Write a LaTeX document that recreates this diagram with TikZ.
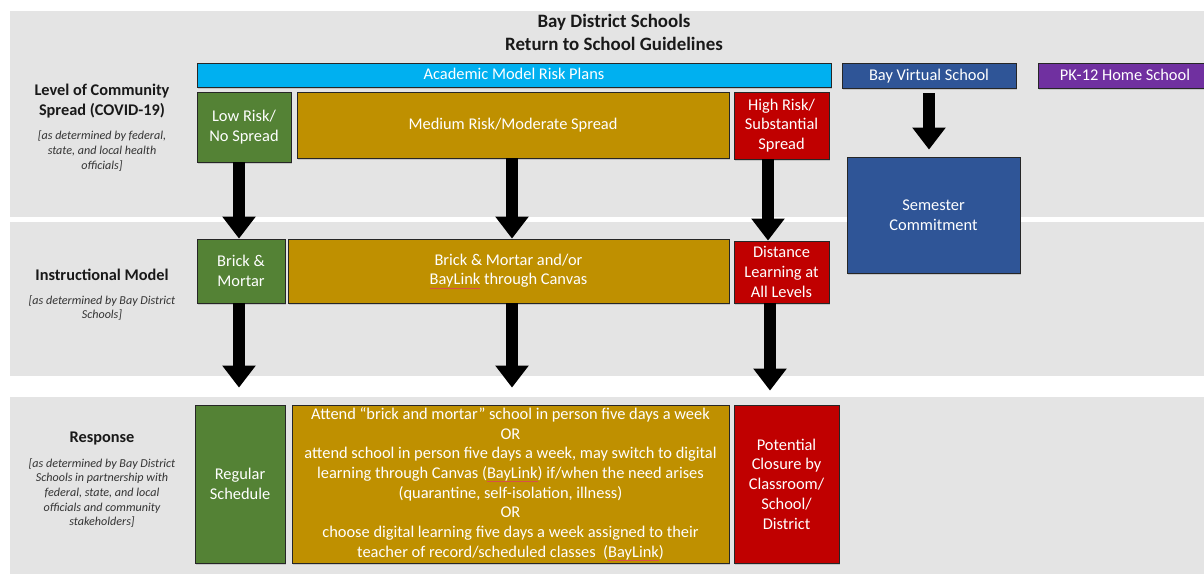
\documentclass[tikz,border=0pt]{standalone}
\usepackage{fontspec}
\setmainfont{Carlito}
\usetikzlibrary{arrows.meta,shadows}
\definecolor{bandgray}{HTML}{E4E4E4}
\definecolor{cgreen}{HTML}{548235}
\definecolor{cgold}{HTML}{BF9000}
\definecolor{cred}{HTML}{C00000}
\definecolor{ccyan}{HTML}{00B0F0}
\definecolor{cblue}{HTML}{2F5597}
\definecolor{cpurple}{HTML}{7030A0}
\definecolor{squiggle}{HTML}{D8504A}
\newcommand{\baylink}{\setbox0\hbox{BayLink}\rlap{\textcolor{squiggle}{\rule[-3.2pt]{\wd0}{0.35pt}}}BayLink}
\begin{document}
\begin{tikzpicture}[x=1pt,y=-1pt,
  box/.style={draw=black!85,line width=0.8pt,text=white,align=center,inner sep=0pt,
    font=\fontsize{16.4}{19.7}\selectfont,
    drop shadow={shadow xshift=1.2pt,shadow yshift=-1.8pt,opacity=0.3}},
  bigarrow/.style={line width=12pt,-{Triangle[length=22pt,width=32pt]},black},
  hdr/.style={font=\bfseries\fontsize{16.3}{20}\selectfont,align=center,text=black!90},
  note/.style={font=\itshape\fontsize{12.1}{14.7}\selectfont,align=center,text=black!80}]
\useasboundingbox (0,0) rectangle (1204,574);
\clip (0,0) rectangle (1204,574);
\fill[white] (0,0) rectangle (1204,574);
% bands
\fill[bandgray] (10,11) rectangle (1204,217);
\fill[bandgray] (10,222) rectangle (1204,376);
\fill[bandgray] (10,397) rectangle (1204,574);
% title
\node[hdr,font=\bfseries\fontsize{18.9}{23}\selectfont] (title) at (614,32.5) {Bay District Schools\\Return to School Guidelines};
% left labels
\node[hdr] (lvl) at (102,101) {Level of Community\\Spread (COVID-19)};
\node[note] (lvlnote) at (102,151) {[as determined by federal,\\state, and local health\\officials]};
\node[hdr] (ins) at (102,275) {Instructional Model};
\node[note] (insnote) at (102,308) {[as determined by Bay District\\Schools]};
\node[hdr] (rsp) at (102,438) {Response};
\node[note] (rspnote) at (102,493) {[as determined by Bay District\\Schools in partnership with\\federal, state, and local\\officials and community\\stakeholders]};
% top row
\node[box,fill=ccyan,minimum width=634pt,minimum height=24pt,text depth=1.5pt] (amrp) at (514,75) {Academic Model Risk Plans};
\node[box,fill=cblue,minimum width=174pt,minimum height=25pt,text depth=1.5pt] (bvs) at (929,75.5) {Bay Virtual School};
\node[box,fill=cpurple,minimum width=174pt,minimum height=25pt,text depth=1.5pt] (pk) at (1125,75.5) {PK-12 Home School};
% row 1
\node[box,fill=cgreen,minimum width=94pt,minimum height=70pt] (low) at (244,127) {Low Risk/\\No Spread};
\node[box,fill=cgold,minimum width=432pt,minimum height=66pt,text depth=1.5pt] (med) at (513,125) {Medium Risk/Moderate Spread};
\node[box,fill=cred,minimum width=95pt,minimum height=67pt] (high) at (781.5,125.5) {High Risk/\\Substantial\\Spread};
\node[box,fill=cblue,minimum width=173pt,minimum height=116pt] (sem) at (933.5,215) {Semester\\Commitment};
% row 2
\node[box,fill=cgreen,minimum width=88pt,minimum height=64pt] (bm) at (241,271) {Brick \&\\Mortar};
\node[box,fill=cgold,minimum width=441pt,minimum height=64pt] (bmc) at (508.5,271) {Brick \& Mortar and/or\\\baylink{} through Canvas};
\node[box,fill=cred,minimum width=95pt,minimum height=62pt] (dl) at (781.5,272) {Distance\\Learning at\\All Levels};
% row 3
\node[box,fill=cgreen,minimum width=90pt,minimum height=158pt] (reg) at (240,484) {Regular\\Schedule};
\node[box,fill=cgold,minimum width=437pt,minimum height=158pt] (resp) at (510.5,484) {Attend “brick and mortar” school in person five days a week\\OR\\attend school in person five days a week, may switch to digital\\learning through Canvas (\baylink) if/when the need arises\\(quarantine, self-isolation, illness)\\OR\\choose digital learning five days a week assigned to their\\teacher of record/scheduled classes\ \ (\baylink)};
\node[box,fill=cred,minimum width=105pt,minimum height=158pt] (clo) at (786.5,484) {Potential\\Closure by\\Classroom/\\School/\\District};
% arrow columns
\coordinate (cg) at (239,0);
\coordinate (cm) at (512,0);
\coordinate (cr) at (768,0);
\coordinate (cr2) at (770,0);
% arrows
\draw[bigarrow] (low.south -| cg) -- (bm.north -| cg);
\draw[bigarrow] (med.south -| cm) -- (bmc.north -| cm);
\draw[bigarrow] (high.south -| cr) -- (dl.north -| cr);
\draw[bigarrow,shorten >=17pt] (bm.south -| cg) -- (reg.north -| cg);
\draw[bigarrow,shorten >=17pt] (bmc.south -| cm) -- (resp.north -| cm);
\draw[bigarrow,shorten >=14pt] (dl.south -| cr2) -- (clo.north -| cr2);
\draw[bigarrow,shorten <=5pt,shorten >=7pt] (bvs.south) -- (sem.north -| bvs.south);
\end{tikzpicture}
\end{document}
